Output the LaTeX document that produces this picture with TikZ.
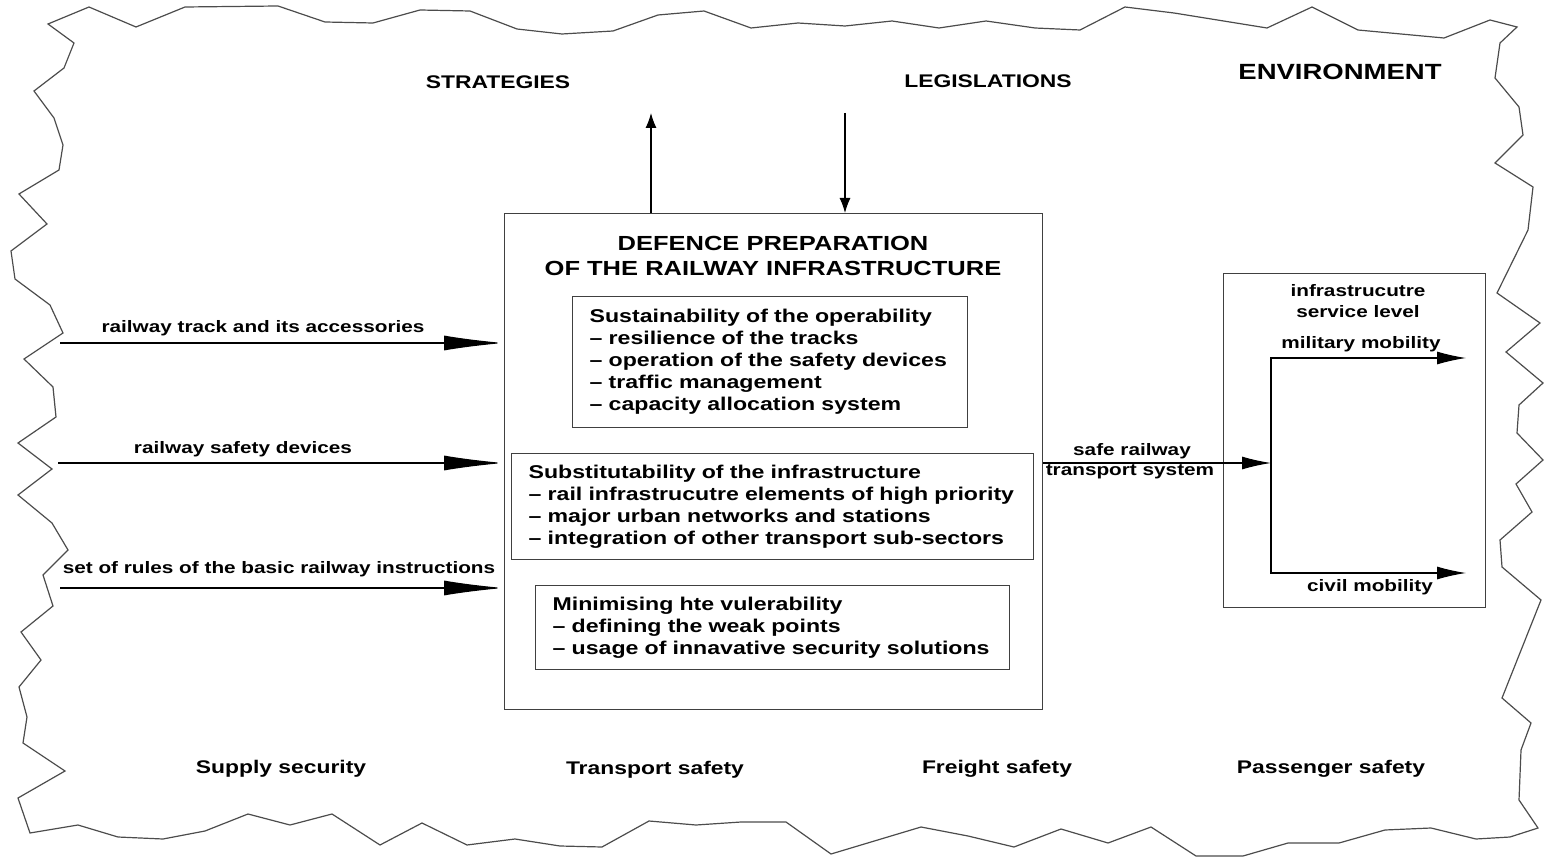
\documentclass[tikz,border=0pt]{standalone}
\usepackage{fontspec}
\setmainfont{Liberation Sans}[FakeStretch=1.25]
\usetikzlibrary{arrows.meta}

\begin{document}
\begin{tikzpicture}[
    x=1pt, y=-1pt,
    line width=1.1pt,
    border/.style={draw=black!70, line width=1.2pt, line join=miter},
    box/.style={draw=black!75, line width=1.3pt, inner sep=0pt, anchor=north west},
    listbox/.style={draw=black!75, line width=1.3pt, anchor=north west, align=left,
      inner xsep=17pt, inner ysep=0pt, font=\bfseries\fontsize{18.5}{22}\selectfont},
    lbl/.style={inner sep=0pt, align=center, font=\bfseries\fontsize{16.6}{21}\selectfont},
    head/.style={inner sep=0pt, font=\bfseries\fontsize{18.3}{22}\selectfont},
    longtip/.style={-{Latex[length=60pt,width=15pt]}},
    midtip/.style={-{Latex[length=29pt,width=13pt]}},
    smalltip/.style={-{Latex[length=15pt,width=11pt]}}
  ]
  \useasboundingbox (0,0) rectangle (1544,858);

  % environment
  \draw[border] (48,24) -- (89,7) -- (136,27) -- (185,7) -- (278,6) -- (325,22)
    -- (373,23) -- (420,10) -- (470,11) -- (517,29) -- (562,34) -- (613,31)
    -- (658,15) -- (704,11) -- (751,28) -- (798,23) -- (845,26) -- (892,21)
    -- (939,28) -- (986,21) -- (1035,28) -- (1080,30) -- (1125,7) -- (1174,13)
    -- (1267,28) -- (1312,7) -- (1358,30) -- (1444,38) -- (1490,20) -- (1517,27)
    -- (1500,43) -- (1495,78) -- (1519,107) -- (1523,135) -- (1495,163) -- (1533,187)
    -- (1528,230) -- (1497,293) -- (1540,323) -- (1506,352) -- (1543,383) -- (1519,405)
    -- (1517,433) -- (1543,460) -- (1516,484) -- (1532,512) -- (1500,540) -- (1502,567)
    -- (1541,600) -- (1502,698) -- (1531,723) -- (1521,750) -- (1519,800) -- (1538,828)
    -- (1510,837) -- (1476,839) -- (1431,828) -- (1385,830) -- (1339,843) -- (1288,843)
    -- (1243,856) -- (1196,856) -- (1151,827) -- (1108,843) -- (1061,829) -- (1014,847)
    -- (968,836) -- (921,827) -- (831,854) -- (786,822) -- (741,822) -- (696,825)
    -- (649,821) -- (602,847) -- (560,846) -- (515,839) -- (467,845) -- (422,823)
    -- (380,845) -- (332,814) -- (290,825) -- (248,814) -- (205,831) -- (163,839)
    -- (118,837) -- (78,825) -- (30,833) -- (18,798) -- (65,771) -- (23,743)
    -- (27,717) -- (19,687) -- (41,660) -- (21,632) -- (53,606) -- (43,575)
    -- (68,550) -- (52,523) -- (18,495) -- (52,469) -- (18,443) -- (56,417)
    -- (53,387) -- (24,359) -- (63,333) -- (50,305) -- (15,279) -- (11,251)
    -- (47,224) -- (19,194) -- (59,170) -- (63,145) -- (54,118) -- (34,91)
    -- (64,68) -- (74,43) -- cycle;

  \node[head] (strat) at (498,82) {STRATEGIES};
  \node[head] (legis) at (988,81) {LEGISLATIONS};
  \node[head, font=\bfseries\fontsize{22}{26}\selectfont] (envir) at (1340,72) {ENVIRONMENT};

  \node[head] (supply) at (281,769) {Supply security};
  \node[head] (transp) at (655,770) {Transport safety};
  \node[head] (freight) at (997,769) {Freight safety};
  \node[head] (passen) at (1331,769) {Passenger safety};

  % main block
  \node[
    box,
    minimum width=538pt,
    minimum height=496pt
    ] (prep) at (504,213) {};
  \node[
    inner sep=0pt,
    align=center,
    font=\bfseries\fontsize{20.4}{25}\selectfont
    ] (preptitle) at (773,256) {DEFENCE PREPARATION\\OF THE RAILWAY INFRASTRUCTURE};

  \node[listbox, text width=361pt, minimum height=131pt] (sust) at (572,296)
    {Sustainability of the operability\\-- resilience of the tracks\\-- operation of the safety devices\\-- traffic management\\-- capacity allocation system};
  \node[listbox, text width=488pt, minimum height=106pt] (subst) at (511,453)
    {Substitutability of the infrastructure\\-- rail infrastrucutre elements of high priority\\-- major urban networks and stations\\-- integration of other transport sub-sectors};
  \node[listbox, text width=440pt, minimum height=84pt] (vuln) at (535,585)
    {Minimising hte vulerability\\-- defining the weak points\\-- usage of innavative security solutions};

  % inputs
  \coordinate (trackin) at (60,343);
  \coordinate (devin) at (58,463);
  \coordinate (rulesin) at (60,588);
  \draw[longtip] (trackin) -- (trackin -| prep.west);
  \draw[longtip] (devin) -- (devin -| prep.west);
  \draw[longtip] (rulesin) -- (rulesin -| prep.west);
  \node[lbl] (tracklbl) at (263,328) {railway track and its accessories};
  \node[lbl] (devlbl) at (243,449) {railway safety devices};
  \node[lbl] (ruleslbl) at (279,569) {set of rules of the basic railway instructions};

  \coordinate (stratend) at (651,113);
  \coordinate (legstart) at (845,113);
  \draw[smalltip] (prep.north -| stratend) -- (stratend);
  \draw[smalltip] (legstart) -- (legstart |- prep.north);

  % output
  \node[
    box,
    minimum width=262pt,
    minimum height=334pt
    ] (service) at (1223,273) {};
  \node[lbl] (servlbl) at (1358,301) {infrastrucutre\\service level};

  \coordinate (split) at (1271,463);
  \coordinate (milend) at (1466,358);
  \coordinate (civend) at (1466,573);
  \draw[midtip] (prep.east |- split) -- (split);
  \draw[midtip] (split) |- (milend);
  \draw[midtip] (split) |- (civend);
  \node[lbl] (safelbl) at (1132,451) {safe railway};
  \node[lbl] (syslbl) at (1130,472) {transport system};
  \node[lbl] (millbl) at (1361,344) {military mobility};
  \node[lbl] (civlbl) at (1370,587) {civil mobility};
\end{tikzpicture}
\end{document}
